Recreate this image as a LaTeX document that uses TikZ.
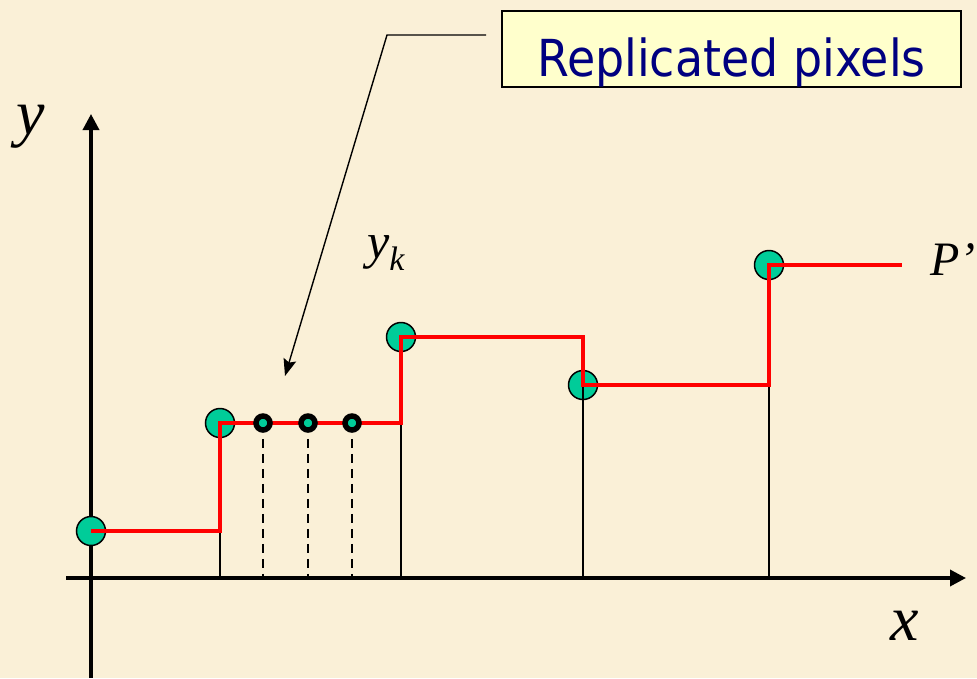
\documentclass[tikz,border=0pt]{standalone}
\usepackage{fontspec}
\usepackage{xcolor}
\usetikzlibrary{arrows.meta, positioning, calc}
\newfontfamily\labelfont{Liberation Serif}
\newfontfamily\notefont[FakeStretch=0.9]{DejaVu Sans}
\definecolor{cBg}{RGB}{250,240,215}
\definecolor{cPix}{RGB}{0,204,153}
\definecolor{cNote}{RGB}{255,255,204}
\definecolor{cNavy}{RGB}{0,0,128}
\tikzset{
	pixel/.style    ={circle, draw=black, line width=1.5pt, fill=cPix, minimum size=29pt, inner sep=0pt},
	reppixel/.style ={circle, draw=black, line width=5.5pt, fill=cPix, minimum size=14pt, inner sep=0pt},
	axis/.style     ={line width=3.5pt, -{Triangle[length=16pt, width=16pt]}},
	drop/.style     ={line width=2.2pt},
	dropdash/.style ={line width=2.4pt, dash pattern=on 9pt off 6pt},
	stair/.style    ={red, line width=4pt},
	callout/.style  ={line width=1.4pt, -{Stealth[length=17pt, width=13pt, inset=3pt]}},
	note/.style     ={rectangle, draw=black, line width=1.5pt, fill=cNote, minimum width=459pt, inner sep=0pt, text height=65pt, text depth=11pt, text=cNavy, font=\notefont\fontsize{51}{51}\selectfont},
	mathlbl/.style  ={font=\labelfont\itshape\fontsize{64}{64}\selectfont, inner sep=0pt, anchor=base},
}

\begin{document}
\begin{tikzpicture}[x=1pt, y=-1pt]
	\useasboundingbox (0,0) rectangle (977,678);
	\fill[cBg] (0,0) rectangle (977,678);
	% axes
	\coordinate (o) at (91,578);
	\draw[axis] (66,578) -- (966,578);
	\draw[axis] (91,678) -- (91,114);
	\node[mathlbl] (xlbl) at (905,640) {x};
	\node[mathlbl] (ylbl) at (31,134) {y};
	% sample pixels
	\node[pixel] (pix0) at (91,531) {};
	\node[pixel] (pix1) at (220,423) {};
	\node[pixel] (pix2) at (401,337) {};
	\node[pixel] (pix3) at (583,385) {};
	\node[pixel] (pix4) at (769,265) {};
	\foreach \n in {1,...,4}
		\draw[drop] (pix\n.center) -- (pix\n.center |- o);
	\coordinate (stairend) at (902,265);
	\draw[stair] (pix0.center) -| (pix1.center) -| (pix2.center) -| (pix3.center) -| (pix4.center) -- (stairend);
	% replicated pixels
	\foreach \i/\x in {1/263,2/308,3/352} {
		\node[reppixel] (rep\i) at (\x,423) {};
		\draw[dropdash] ([yshift=-6pt]rep\i.south) -- (rep\i.center |- o);
	}
	\node[inner sep=0pt, anchor=base west, font=\labelfont\itshape] (yk) at (367,258) {\fontsize{50}{50}\selectfont y\raisebox{-12pt}{\fontsize{34}{34}\selectfont k}};
	\node[inner sep=0pt, anchor=base west, font=\labelfont\itshape\fontsize{48}{48}\selectfont] (plbl) at (930,275) {P’};
	% note
	\node[note] (note) at (731.5,49) {Replicated pixels};
	\coordinate (notestart) at (486,35);
	\coordinate (notebend) at (387,35);
	\coordinate (notetip) at (285,376);
	\draw[callout] (notestart) -- (notebend) -- (notetip);
\end{tikzpicture}
\end{document}
